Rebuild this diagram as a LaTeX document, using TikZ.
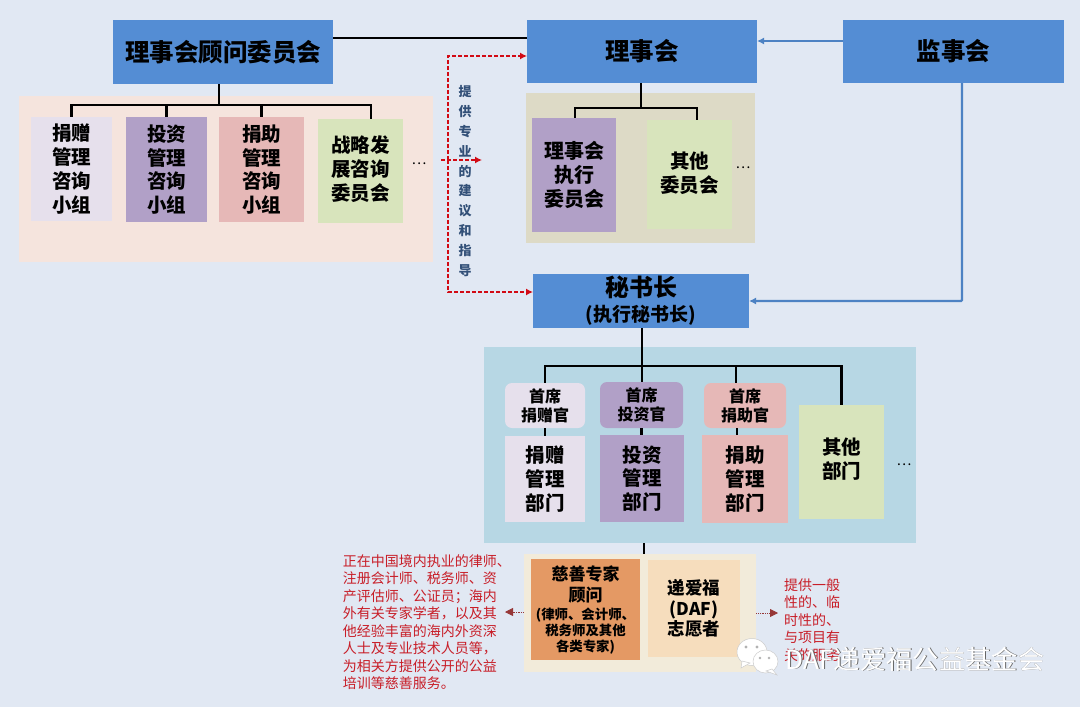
\documentclass[tikz,border=0pt]{standalone}
\usepackage{fontspec}
\setmainfont{Noto Sans CJK SC}
\usetikzlibrary{calc,arrows.meta,positioning}
\definecolor{pagebg}{RGB}{225,232,243}
\definecolor{headblue}{RGB}{84,141,212}
\definecolor{panelpink}{RGB}{245,228,221}
\definecolor{panelolive}{RGB}{221,218,198}
\definecolor{panelblue}{RGB}{183,215,228}
\definecolor{panelcream}{RGB}{242,235,218}
\definecolor{paleviolet}{RGB}{230,224,236}
\definecolor{midviolet}{RGB}{177,160,199}
\definecolor{palerose}{RGB}{230,184,183}
\definecolor{palegreen}{RGB}{216,228,188}
\definecolor{deeporange}{RGB}{228,153,100}
\definecolor{paleorange}{RGB}{246,221,189}
\definecolor{alertred}{RGB}{200,30,40}
\definecolor{dashred}{RGB}{210,10,20}
\definecolor{dotred}{RGB}{150,55,55}
\definecolor{hintblue}{RGB}{50,80,120}
\tikzset{
  headbox/.style={fill=headblue, inner sep=0pt, align=center, font=\fontsize{24.5}{28}\selectfont\bfseries},
  unitbox/.style={inner sep=0pt, align=center, font=\fontsize{19.5}{23.7}\selectfont\bfseries},
  chiefbox/.style={inner sep=0pt, align=center, rounded corners=7pt, font=\fontsize{16}{19}\selectfont\bfseries},
  panelbox/.style={inner sep=0pt},
  tree/.style={draw=black, line width=2.2pt},
  feed/.style={draw=headblue!92!black, line width=2.2pt, -{Latex[length=7pt,width=7pt]}},
  hint/.style={draw=dashred, line width=1.3pt, dash pattern=on 4pt off 2pt, -{Latex[length=7pt,width=7pt]}},
  note/.style={draw=dotred, line width=0.8pt, densely dotted, -{Triangle[length=8pt,width=8pt]}},
  notetext/.style={inner sep=0pt, align=left, text=alertred, font=\fontsize{14}{17.5}\selectfont},
  more/.style={inner sep=0pt, font=\fontsize{14}{18}\selectfont}
}
\begin{document}
\begin{tikzpicture}[x=1pt, y=-1pt]
  \fill[pagebg] (0,0) rectangle (1080,707);
  \useasboundingbox (0,0) rectangle (1080,707);

  \node[panelbox, fill=panelpink, minimum width=414pt, minimum height=166pt] (advpanel) at (226,179) {};
  \node[panelbox, fill=panelolive, minimum width=229pt, minimum height=150pt] (boardpanel) at (640.5,168) {};
  \node[panelbox, fill=panelblue, minimum width=432pt, minimum height=196pt] (officepanel) at (700,445) {};
  \node[panelbox, fill=panelcream, minimum width=232pt, minimum height=118pt] (expertpanel) at (640,613) {};

  \node[headbox, minimum width=220pt, minimum height=64pt] (advisers) at (223,52) {理事会顾问委员会};
  \node[headbox, minimum width=230pt, minimum height=63pt] (board) at (642,51.5) {理事会};
  \node[headbox, minimum width=221pt, minimum height=63pt] (supervisors) at (953.5,51.5) {监事会};
  \node[headbox, minimum width=216pt, minimum height=54pt, font=\fontsize{24}{27}\selectfont\bfseries] (secretary) at (641,301) {秘书长\\[-2pt]{\fontsize{19}{22}\selectfont (执行秘书长)}};

  \node[unitbox, fill=paleviolet, minimum width=81pt, minimum height=104pt] (advdonate) at (71.5,169) {捐赠\\管理\\咨询\\小组};
  \node[unitbox, fill=midviolet, minimum width=81pt, minimum height=105pt] (advinvest) at (166.5,169.5) {投资\\管理\\咨询\\小组};
  \node[unitbox, fill=palerose, minimum width=85pt, minimum height=105pt] (advgrant) at (261.5,169.5) {捐助\\管理\\咨询\\小组};
  \node[unitbox, fill=palegreen, minimum width=85pt, minimum height=104pt] (advplan) at (360.5,171) {战略发\\展咨询\\委员会\\[-17.7pt]};
  \node[more] (advmore) at (419,164) {…};

  \node[unitbox, fill=midviolet, minimum width=84pt, minimum height=114pt, font=\fontsize{20}{23.7}\selectfont\bfseries] (execcom) at (574,175) {理事会\\执行\\委员会};
  \node[unitbox, fill=palegreen, minimum width=85pt, minimum height=109pt] (othercom) at (689.5,174.5) {其他\\委员会\\[-18.7pt]};
  \node[more] (boardmore) at (743,168) {…};

  \node[chiefbox, fill=paleviolet, minimum width=80pt, minimum height=45pt] (chiefdonate) at (545,405.5) {首席\\捐赠官};
  \node[chiefbox, fill=midviolet, minimum width=83pt, minimum height=46pt] (chiefinvest) at (641.5,405) {首席\\投资官};
  \node[chiefbox, fill=palerose, minimum width=82pt, minimum height=45pt] (chiefgrant) at (745,405.5) {首席\\捐助官};
  \node[unitbox, fill=paleviolet, minimum width=80pt, minimum height=86pt] (deptdonate) at (545,479) {捐赠\\管理\\部门};
  \node[unitbox, fill=midviolet, minimum width=84pt, minimum height=87pt] (deptinvest) at (642,478.5) {投资\\管理\\部门};
  \node[unitbox, fill=palerose, minimum width=86pt, minimum height=88pt] (deptgrant) at (745,479) {捐助\\管理\\部门};
  \node[unitbox, fill=palegreen, minimum width=85pt, minimum height=114pt] (deptother) at (841.5,462) {其他\\部门\\[-15.7pt]};
  \node[more] (officemore) at (904,465) {…};

  \node[unitbox, fill=deeporange, minimum width=109pt, minimum height=101pt, font=\fontsize{17}{21}\selectfont\bfseries] (experts) at (585.5,609.5) {慈善专家\\顾问\\[-3pt]{\fontsize{13.4}{15.5}\selectfont (律师、会计师、}\\[-5pt]{\fontsize{13.4}{15.5}\selectfont 税务师及其他}\\[-5pt]{\fontsize{13.4}{15.5}\selectfont 各类专家)}};
  \node[unitbox, fill=paleorange, minimum width=92pt, minimum height=97pt, font=\fontsize{17.5}{20.5}\selectfont\bfseries] (volunteers) at (694,608.5) {递爱福\\(DAF)\\志愿者};

  \node[notetext, anchor=east] (expertnote) at (511,622) {正在中国境内执业的律师、\\注册会计师、税务师、资\\产评估师、公证员；海内\\外有关专家学者，以及其\\他经验丰富的海内外资深\\人士及专业技术人员等，\\为相关方提供公开的公益\\培训等慈善服务。};
  \node[notetext, anchor=west] (volunteernote) at (784,620) {提供一般\\性的、临\\时性的、\\与项目有\\关的服务};
  \node[inner sep=0pt, align=center, text=hintblue, font=\fontsize{13}{19.8}\selectfont\bfseries] (hinttext) at (465,181) {提\\供\\专\\业\\的\\建\\议\\和\\指\\导};

  \coordinate (hintturn) at (448,160);
  \coordinate (hintstart) at (441,160);
  \coordinate (hintend) at (482,160);
  \coordinate (advbus) at (219,105);
  \coordinate (plandrop) at (371,105);
  \coordinate (boardbus) at (641,108);
  \coordinate (otherdrop) at (697,108);
  \coordinate (execdrop) at (575,108);
  \coordinate (officebus) at (642,366);
  \coordinate (grantdrop) at (736,366);
  \coordinate (expertdrop) at (644,543);
  \coordinate (boardin) at (527,56);
  \coordinate (secretaryin) at (533,292);
  \coordinate (supervisordown) at (962,83);
  \coordinate (secretaryfeed) at (749,301);
  \coordinate (supervisorleft) at (843,41);
  \coordinate (boardfeed) at (757,41);

  \draw[tree] (advisers.east |- 0,38) -- (board.west |- 0,38);
  \draw[tree] (advbus |- advisers.south) -- (advbus);
  \draw[tree] (advdonate.north) |- (plandrop) -- (plandrop |- advplan.north);
  \draw[tree] (advinvest.north) -- (advinvest.north |- advbus);
  \draw[tree] (advgrant.north) -- (advgrant.north |- advbus);

  \draw[tree] (boardbus |- board.south) -- (boardbus);
  \draw[tree] (execdrop |- execcom.north) |- (otherdrop) -- (otherdrop |- othercom.north);

  \draw[tree] (officebus |- secretary.south) -- (chiefinvest.north -| officebus);
  \draw[tree] (chiefdonate.north) |- (deptother.north |- officebus) -- (deptother.north);
  \draw[tree] (grantdrop) -- (grantdrop |- chiefgrant.north);
  \draw[tree] (chiefdonate.south) -- (deptdonate.north);
  \draw[tree] (chiefinvest.south) -- (deptinvest.north -| chiefinvest.south);
  \draw[tree] (737,428) -- (737,435);
  \draw[tree, line width=1.5pt] (expertdrop) -- (expertdrop |- expertpanel.north);

  \draw[feed] (supervisorleft) -- (boardfeed);
  \draw[feed, rounded corners=1pt] (supervisordown) |- (secretaryfeed);

  \draw[hint] (hintturn) |- (boardin);
  \draw[hint] (hintturn) |- (secretaryin);
  \draw[hint] (hintstart) -- (hintend);

  \draw[note] (expertpanel.west |- 0,612) -- (505,612);
  \draw[note] (expertpanel.east |- 0,613) -- (778,613);

  \draw[fill=white, draw=gray!40, line width=0.5pt] (752,652) ellipse (15 and 13.5);
  \draw[fill=white, draw=gray!40, line width=0.5pt] (742,661) -- (741,668) -- (750,663) -- cycle;
  \draw[fill=white, draw=gray!40, line width=0.5pt] (765.5,661.5) ellipse (12.5 and 11.5);
  \draw[fill=white, draw=gray!40, line width=0.5pt] (772,669) -- (777,675) -- (766,671) -- cycle;
  \foreach \eyex/\eyey/\eyer in {746/647/1.6, 757/647/1.6, 760/658/1.4, 769/658/1.4}
    \fill[gray!60] (\eyex,\eyey) circle (\eyer);

  \node[inner sep=0pt, text=gray!80!black, font=\fontsize{26.3}{28}\selectfont] (markshade) at (915.8,659.8) {DAF递爱福公益基金会};
  \node[inner sep=0pt, text=white, font=\fontsize{26.3}{28}\selectfont] (marktext) at (915,659) {DAF递爱福公益基金会};
\end{tikzpicture}
\end{document}
